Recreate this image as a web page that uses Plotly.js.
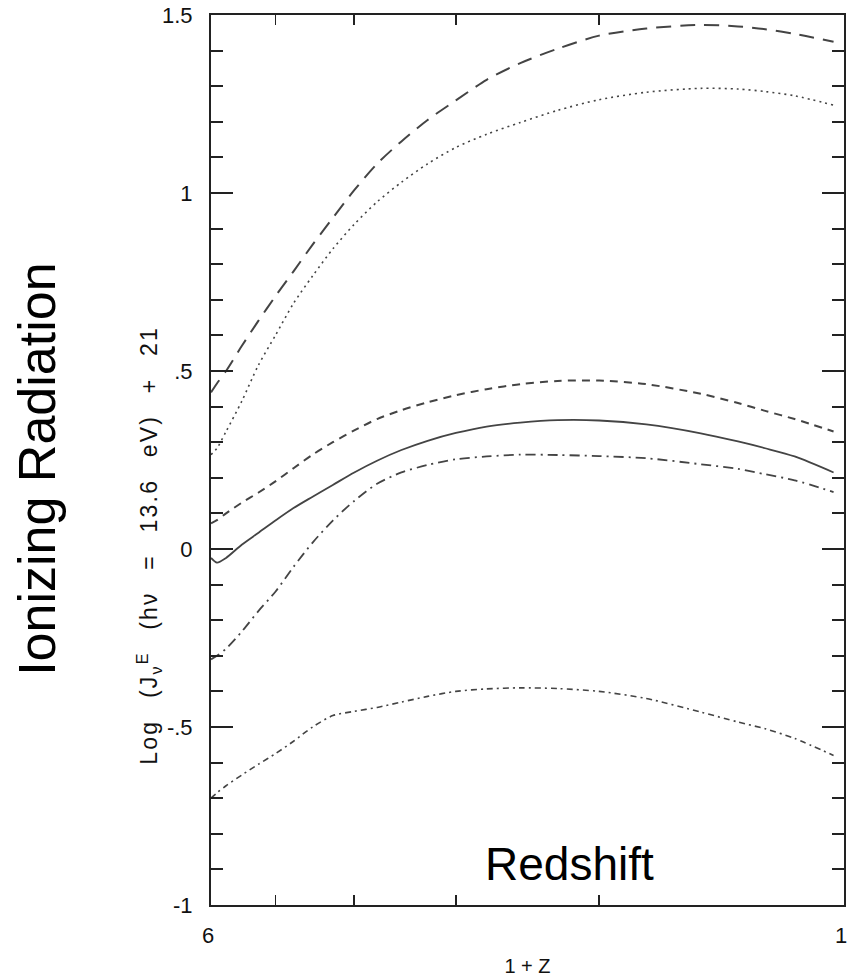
<!DOCTYPE html>
<html>
<head>
<meta charset="utf-8">
<script src="https://cdn.plot.ly/plotly-3.0.1.min.js"></script>
<style>
html,body{margin:0;padding:0;background:#fff;}
#chart{width:848px;height:978px;}
.annotation[data-index="0"] text{letter-spacing:2.2px;word-spacing:13px;}
</style>
</head>
<body>
<div id="chart"></div>
<script>
// 1 + z values (x axis, log scale, reversed)
const onePlusZ = [6, 5.9, 5.75, 5.5, 5.25, 5, 4.75, 4.5, 4.25, 4, 3.75, 3.5, 3.25, 3, 2.75, 2.5, 2.25, 2, 1.75, 1.5, 1.35, 1.25, 1.15, 1.03];

// Log J + 21 for each model curve
const longDash   = [0.44, 0.465, 0.50, 0.57, 0.64, 0.71, 0.78, 0.855, 0.93, 1.008, 1.082, 1.145, 1.205, 1.26, 1.318, 1.365, 1.405, 1.442, 1.462, 1.472, 1.468, 1.46, 1.447, 1.425];
const dotted     = [0.265, 0.283, 0.33, 0.415, 0.515, 0.60, 0.69, 0.767, 0.843, 0.912, 0.975, 1.03, 1.082, 1.128, 1.165, 1.198, 1.232, 1.262, 1.283, 1.294, 1.292, 1.285, 1.273, 1.247];
const shortDash  = [0.072, 0.081, 0.10, 0.13, 0.158, 0.19, 0.227, 0.265, 0.30, 0.333, 0.365, 0.39, 0.412, 0.432, 0.449, 0.463, 0.472, 0.473, 0.463, 0.436, 0.41, 0.388, 0.365, 0.33];
const solid      = [-0.025, -0.038, -0.025, 0.012, 0.045, 0.08, 0.115, 0.147, 0.18, 0.215, 0.248, 0.278, 0.304, 0.326, 0.344, 0.355, 0.362, 0.361, 0.35, 0.325, 0.302, 0.283, 0.26, 0.215];
const dashDot    = [-0.31, -0.30, -0.28, -0.232, -0.175, -0.12, -0.05, 0.018, 0.08, 0.135, 0.183, 0.215, 0.236, 0.252, 0.26, 0.265, 0.264, 0.261, 0.255, 0.238, 0.225, 0.21, 0.193, 0.16];
const dashDotDot = [-0.70, -0.685, -0.665, -0.635, -0.605, -0.575, -0.54, -0.50, -0.468, -0.456, -0.445, -0.43, -0.414, -0.40, -0.393, -0.39, -0.392, -0.40, -0.42, -0.458, -0.486, -0.505, -0.532, -0.58];

const xLabelVals = [6, 1];
const xLabelText = ["6", "1"];
const xMinorVals = [5, 4, 3, 2];
const yTickVals = [-1, -0.5, 0, 0.5, 1, 1.5];
const yTickText = ["-1", "-.5", "0", ".5", "1", "1.5"];

const col = "#444";
function tr(y, dash, w) {
  return {x: onePlusZ, y: y, type: "scatter", mode: "lines",
    line: {color: col, width: w || 1.8, dash: dash, shape: "spline", smoothing: 0.8},
    hoverinfo: "skip", showlegend: false};
}
const data = [
  tr(longDash, "15px,9px", 2),
  tr(dotted, "2px,4px", 1.6),
  tr(shortDash, "8px,6px", 2),
  tr(solid, "solid", 1.8),
  tr(dashDot, "10px,5px,2px,5px", 1.8),
  tr(dashDotDot, "6px,4px,2px,4px", 1.6)
];

const font = "Liberation Sans, Arial, sans-serif";
const layout = {
  width: 848, height: 978,
  margin: {l: 211, r: 4, t: 15, b: 73},
  paper_bgcolor: "#fff", plot_bgcolor: "#fff",
  font: {family: font, color: "#111"},
  showlegend: false,
  xaxis: {
    type: "log", range: [Math.log10(6), 0],
    tickvals: xLabelVals, ticktext: xLabelText,
    ticks: "", ticklabeloverflow: "allow", ticklabelshift: 3,
    minor: {tickvals: xMinorVals, ticks: "inside", ticklen: 10, tickwidth: 1.5, tickcolor: "#222"},
    showline: true, linecolor: "#222", linewidth: 2, mirror: "ticks",
    showgrid: false, zeroline: false,
    ticklabelstandoff: 10,
    tickfont: {size: 22, family: font, color: "#111"},
    title: {text: "1 + Z", font: {size: 20, family: font, color: "#111"}, standoff: 12}
  },
  yaxis: {
    range: [-1, 1.5],
    tickvals: yTickVals, ticktext: yTickText,
    ticks: "inside", ticklen: 22, tickwidth: 2, tickcolor: "#222",
    minor: {dtick: 0.1, ticks: "inside", ticklen: 12, tickwidth: 2, tickcolor: "#222"},
    showline: true, linecolor: "#222", linewidth: 2, mirror: "ticks",
    showgrid: false, zeroline: false,
    ticklabelstandoff: 12,
    tickfont: {size: 22, family: font, color: "#111"},
    title: {text: ""}
  },
  annotations: [
    {text: "Log (J<sub>ν</sub><sup>E</sup> (hν = 13.6 eV) + 21", xref: "paper", yref: "paper",
     x: -0.098, y: 0.404, xanchor: "center", yanchor: "middle", textangle: -90, showarrow: false,
     font: {size: 23, family: font, color: "#111"}},
    {text: "Ionizing Radiation", xref: "paper", yref: "paper",
     x: -0.275, y: 0.49, xanchor: "center", yanchor: "middle", textangle: -90, showarrow: false,
     font: {size: 52, family: font, color: "#000"}},
    {text: "Redshift", xref: "paper", yref: "paper",
     x: 0.567, y: 0.046, xanchor: "center", yanchor: "middle", showarrow: false,
     font: {size: 46, family: font, color: "#000"}}
  ]
};
Plotly.newPlot("chart", data, layout, {staticPlot: true, displayModeBar: false});
</script>
</body>
</html>
